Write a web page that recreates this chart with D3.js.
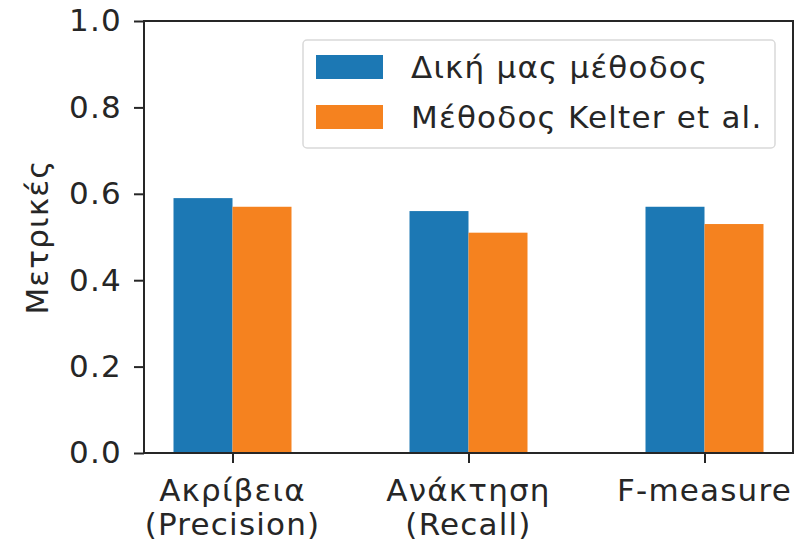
<!DOCTYPE html>
<html>
<head>
<meta charset="utf-8">
<script src="https://cdn.jsdelivr.net/npm/d3@7/dist/d3.min.js"></script>
<style>
  html, body { margin: 0; padding: 0; background: #fff; }
  svg { display: block; }
  text { font-family: "DejaVu Sans", sans-serif; fill: #262626; letter-spacing: 1.2px; }
</style>
</head>
<body>
<div id="chart"></div>
<script>
// Metrics per category, two methods side by side
const categories = [["Ακρίβεια", "(Precision)"], ["Ανάκτηση", "(Recall)"], ["F-measure"]];
const seriesNames = ["Δική μας μέθοδος", "Μέθοδος Kelter et al."];
const ours = [0.59, 0.56, 0.57];
const kelter = [0.57, 0.51, 0.53];
const yTicks = [0, 0.2, 0.4, 0.6, 0.8, 1.0];
const colors = ["#1c78b4", "#f5821f"];

const W = 802, H = 545;
const plotL = 144, plotR = 793, plotT = 21, plotB = 453;
const fs = 31;

const svg = d3.select("#chart").append("svg").attr("width", W).attr("height", H);

const x = d3.scaleLinear().domain([-0.375, 2.375]).range([plotL, plotR]);
const y = d3.scaleLinear().domain([0, 1]).range([plotB, plotT]);
const barW = 0.25;

const series = [ours, kelter];
series.forEach((vals, s) => {
  svg.append("g").selectAll("rect").data(vals).join("rect")
    .attr("x", (d, i) => x(i + (s === 0 ? -barW : 0)))
    .attr("width", x(barW) - x(0))
    .attr("y", d => y(d))
    .attr("height", d => y(0) - y(d))
    .attr("fill", colors[s]);
});

// Axes
const yAxis = d3.axisLeft(y).tickValues(yTicks).tickFormat(d3.format(".1f")).tickSize(10).tickPadding(12);
const gy = svg.append("g").attr("transform", `translate(${plotL},0)`).call(yAxis);
const xAxis = d3.axisBottom(x).tickValues([0, 1, 2]).tickFormat("").tickSize(10);
const gx = svg.append("g").attr("transform", `translate(0,${plotB})`).call(xAxis);
[gy, gx].forEach(g => {
  g.select(".domain").remove();
  g.selectAll(".tick line").attr("stroke", "#262626").attr("stroke-width", 2);
  g.selectAll("text").style("font-family", "DejaVu Sans").attr("font-size", fs).attr("fill", "#262626");
});

// Category labels, possibly on two lines
categories.forEach((lines, i) => {
  const t = svg.append("text").attr("text-anchor", "middle").attr("font-size", fs)
    .attr("x", x(i)).attr("y", 501);
  lines.forEach((ln, k) => {
    t.append("tspan").attr("x", x(i)).attr("dy", k === 0 ? 0 : 34).text(ln);
  });
});

// Frame
svg.append("rect").attr("x", plotL).attr("y", plotT).attr("width", plotR - plotL).attr("height", plotB - plotT)
  .attr("fill", "none").attr("stroke", "#262626").attr("stroke-width", 2);

// Y title
svg.append("text").attr("font-size", fs).attr("text-anchor", "middle")
  .attr("transform", `translate(48,${(plotT + plotB) / 2}) rotate(-90)`).text("Μετρικές");

// Legend
const lg = svg.append("g");
lg.append("rect").attr("x", 303).attr("y", 40).attr("width", 472).attr("height", 108).attr("rx", 4)
  .attr("fill", "#fff").attr("fill-opacity", 0.8).attr("stroke", "#d9d9d9").attr("stroke-width", 1.5);
seriesNames.forEach((n, k) => {
  const cy = 67 + k * 50;
  lg.append("rect").attr("x", 316).attr("y", cy - 12).attr("width", 67).attr("height", 24).attr("fill", colors[k]);
  lg.append("text").attr("x", 411).attr("y", cy + 11.3).attr("font-size", fs).text(n);
});
</script>
</body>
</html>
